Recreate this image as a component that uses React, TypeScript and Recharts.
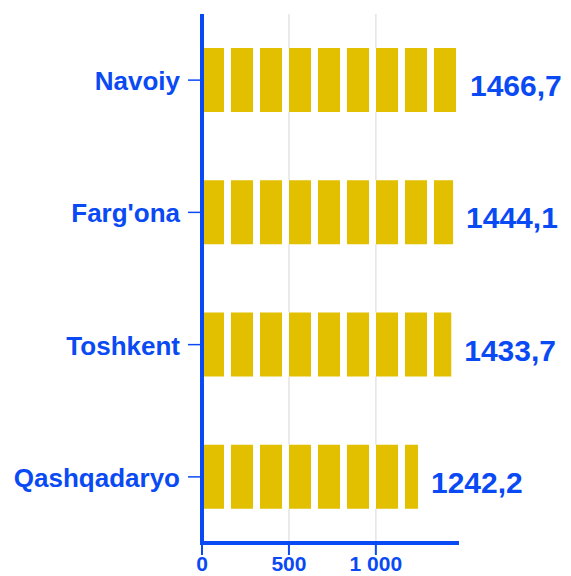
import { BarChart, Bar, XAxis, YAxis, CartesianGrid, LabelList } from 'recharts'

const regions = ['Navoiy', "Farg'ona", 'Toshkent', 'Qashqadaryo']
const values = [1466.7, 1444.1, 1433.7, 1242.2]
const xTicks = [0, 500, 1000]

const BLUE = '#0a4af4'
const GOLD = '#e2c000'

const data = regions.map((name, i) => ({ name, value: values[i] }))

const fmtValue = (v: number) => v.toFixed(1).replace('.', ',')
const fmtTick = (v: number) => String(v).replace(/\B(?=(\d{3})+(?!\d))/g, ' ')

// bar drawn as a row of blocks, like the pictograph in the source
function BlockBar(props: any) {
  const { x, y, width, height } = props
  const step = 29
  const block = 22
  const blocks = []
  for (let s = 0; s < width; s += step) {
    const w = Math.min(block, width - s)
    blocks.push(<rect key={s} x={x + s} y={y} width={w} height={height} fill={GOLD} />)
  }
  return (
    <g>
      <rect x={x} y={y} width={width} height={height} fill="#ffffff" />
      {blocks}
    </g>
  )
}

function YTick(props: any) {
  const { x, y, payload } = props
  return (
    <text x={x} y={y + 10} textAnchor="end" fill={BLUE} fontSize={26} fontWeight="bold"
      fontFamily="'Liberation Sans', Arial, sans-serif">
      {payload.value}
    </text>
  )
}

function XTick(props: any) {
  const { x, y, payload } = props
  return (
    <text x={x} y={y + 14} textAnchor="middle" fill={BLUE} fontSize={21} fontWeight="bold"
      fontFamily="'Liberation Sans', Arial, sans-serif">
      {fmtTick(payload.value)}
    </text>
  )
}

function ValueLabel(props: any) {
  const { x, y, width, height, value } = props
  return (
    <text x={x + width + 13} y={y + height / 2 + 16} fill={BLUE} fontSize={30} fontWeight="bold"
      fontFamily="'Liberation Sans', Arial, sans-serif">
      {fmtValue(value)}
    </text>
  )
}

export default function App() {
  return (
    <div style={{ position: 'absolute', left: 0, top: 0, background: '#fff' }}>
      <BarChart
        width={571}
        height={576}
        data={data}
        layout="vertical"
        margin={{ top: 14, right: 114, bottom: 0, left: 0 }}
      >
        <CartesianGrid horizontal={false} verticalValues={xTicks} stroke="#e4e4e4" strokeWidth={1.5} />
        <XAxis
          type="number"
          domain={[0, 'dataMax']}
          ticks={xTicks}
          height={33}
          tickSize={12}
          tickMargin={2}
          axisLine={{ stroke: BLUE, strokeWidth: 4, strokeLinecap: 'square' }}
          tickLine={{ stroke: BLUE, strokeWidth: 2 }}
          tick={<XTick />}
        />
        <YAxis
          type="category"
          dataKey="name"
          width={202}
          tickSize={14}
          tickMargin={8}
          axisLine={{ stroke: BLUE, strokeWidth: 4 }}
          tickLine={{ stroke: BLUE, strokeWidth: 1.5 }}
          tick={<YTick />}
        />
        <Bar dataKey="value" barSize={64} shape={<BlockBar />} isAnimationActive={false}>
          <LabelList dataKey="value" content={<ValueLabel />} />
        </Bar>
      </BarChart>
    </div>
  )
}
